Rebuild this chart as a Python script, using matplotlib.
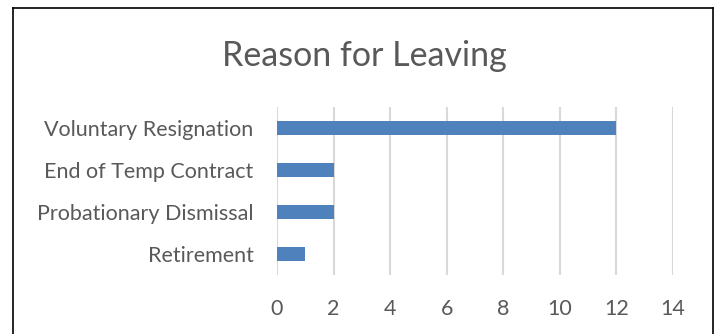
import matplotlib.pyplot as plt
from matplotlib.lines import Line2D

# Данные: причины ухода и количество сотрудников
reasons = ['Voluntary Resignation', 'End of Temp Contract',
           'Probationary Dismissal', 'Retirement']
counts = [12, 2, 2, 1]
x_ticks = [0, 2, 4, 6, 8, 10, 12, 14]

W, H = 720, 334
text_color = '#595959'
bar_color = '#4F81BD'
grid_color = '#D9D9D9'
font = 'Lato'

fig = plt.figure(figsize=(W / 100, H / 100), dpi=100)
fig.patch.set_facecolor('white')

# Область графика в пикселях
left, right, top, bottom = 277, 673, 107, 275
ax = fig.add_axes([left / W, 1 - bottom / H, (right - left) / W, (bottom - top) / H])

y_pos = list(range(len(reasons)))[::-1]
ax.barh(y_pos, counts, height=0.34, color=bar_color, zorder=3)

ax.set_xlim(0, 14)
ax.set_ylim(-0.5, len(reasons) - 0.5)
ax.set_xticks(x_ticks)
ax.set_xticklabels([str(t) for t in x_ticks], fontsize=15.5, color=text_color, family=font)
ax.set_yticks(y_pos)
ax.set_yticklabels(reasons, fontsize=15.5, color=text_color, family=font)
ax.tick_params(axis='both', length=0)
ax.tick_params(axis='y', pad=17)
ax.tick_params(axis='x', pad=17)

ax.grid(axis='x', color=grid_color, linewidth=1.5, zorder=0)
for s in ax.spines.values():
    s.set_visible(False)

fig.text(364 / W, 1 - 56 / H, 'Reason for Leaving', ha='center', va='center',
         fontsize=24.5, color=text_color, family=font)

# Рамка вокруг диаграммы
bx0, bx1, by0 = 13 / W, 713 / W, 1 - 8 / H
for xs, ys in [([bx0, bx1], [by0, by0]), ([bx0, bx0], [by0, 0]), ([bx1, bx1], [by0, 0])]:
    fig.add_artist(Line2D(xs, ys, color='black', linewidth=1.2, transform=fig.transFigure))

fig.savefig('out.png', dpi=100)
